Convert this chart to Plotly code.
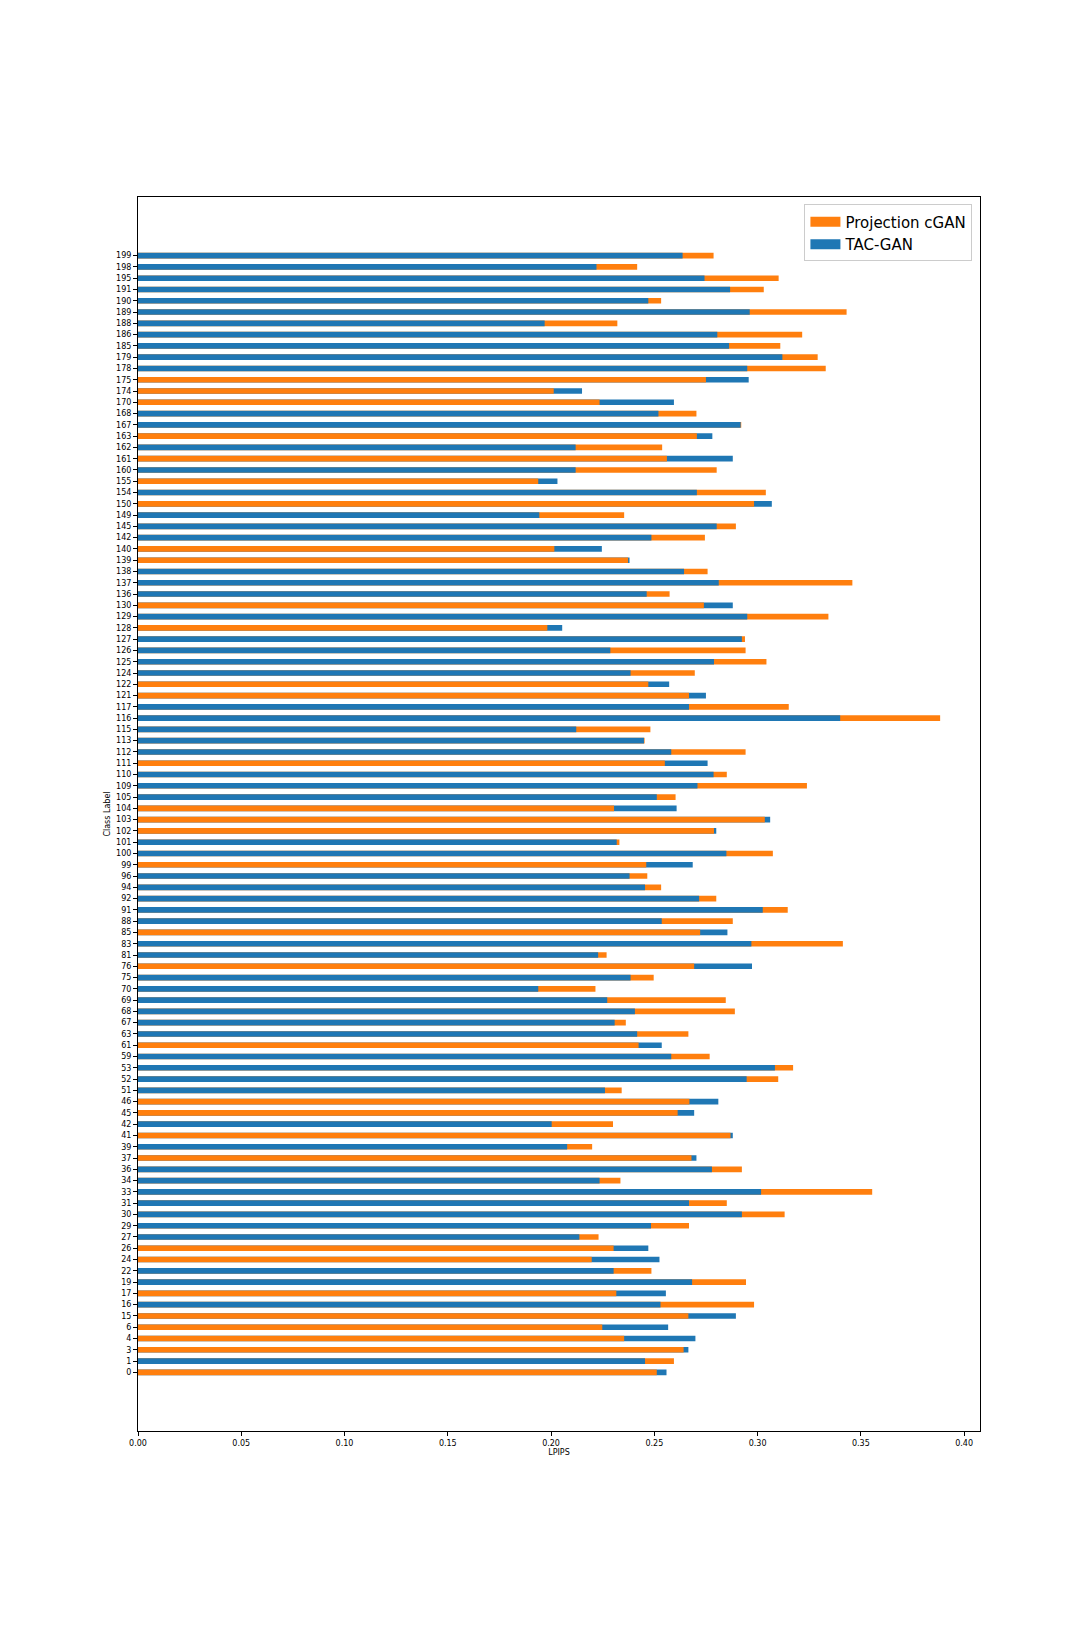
import plotly.graph_objects as go

class_labels = [0, 1, 3, 4, 6, 15, 16, 17, 19, 22, 24, 26, 27, 29, 30, 31, 33, 34, 36, 37,
                39, 41, 42, 45, 46, 51, 52, 53, 59, 61, 63, 67, 68, 69, 70, 75, 76, 81, 83, 85,
                88, 91, 92, 94, 96, 99, 100, 101, 102, 103, 104, 105, 109, 110, 111, 112, 113, 115, 116, 117,
                121, 122, 124, 125, 126, 127, 128, 129, 130, 136, 137, 138, 139, 140, 142, 145, 149, 150, 154, 155,
                160, 161, 162, 163, 167, 168, 170, 174, 175, 178, 179, 185, 186, 188, 189, 190, 191, 195, 198, 199]

projection_cgan = [0.2512, 0.2595, 0.2642, 0.2354, 0.2248, 0.2665, 0.2983, 0.2316, 0.2944, 0.2486,
                   0.2197, 0.2303, 0.2230, 0.2668, 0.3131, 0.2851, 0.3555, 0.2336, 0.2924, 0.2680,
                   0.2199, 0.2869, 0.2300, 0.2613, 0.2670, 0.2342, 0.3100, 0.3172, 0.2768, 0.2424,
                   0.2665, 0.2362, 0.2890, 0.2846, 0.2215, 0.2497, 0.2693, 0.2269, 0.3413, 0.2722,
                   0.2880, 0.3146, 0.2800, 0.2533, 0.2466, 0.2461, 0.3074, 0.2331, 0.2789, 0.3035,
                   0.2305, 0.2603, 0.3239, 0.2851, 0.2551, 0.2942, 0.2453, 0.2481, 0.3884, 0.3151,
                   0.2668, 0.2471, 0.2696, 0.3043, 0.2942, 0.2939, 0.1982, 0.3343, 0.2740, 0.2574,
                   0.3459, 0.2758, 0.2373, 0.2016, 0.2745, 0.2895, 0.2354, 0.2983, 0.3040, 0.1938,
                   0.2802, 0.2561, 0.2538, 0.2706, 0.2921, 0.2704, 0.2235, 0.2013, 0.2750, 0.3330,
                   0.3291, 0.3110, 0.3216, 0.2321, 0.3431, 0.2533, 0.3030, 0.3102, 0.2417, 0.2787]

tac_gan = [0.2559, 0.2455, 0.2665, 0.2699, 0.2567, 0.2895, 0.2530, 0.2556, 0.2683, 0.2303,
           0.2525, 0.2471, 0.2137, 0.2484, 0.2924, 0.2668, 0.3017, 0.2235, 0.2779, 0.2704,
           0.2078, 0.2880, 0.2003, 0.2693, 0.2810, 0.2261, 0.2947, 0.3084, 0.2582, 0.2536,
           0.2417, 0.2308, 0.2406, 0.2272, 0.1938, 0.2385, 0.2973, 0.2228, 0.2970, 0.2854,
           0.2536, 0.3025, 0.2717, 0.2455, 0.2380, 0.2686, 0.2849, 0.2318, 0.2800, 0.3061,
           0.2608, 0.2512, 0.2709, 0.2787, 0.2758, 0.2582, 0.2450, 0.2122, 0.3400, 0.2668,
           0.2750, 0.2572, 0.2385, 0.2789, 0.2287, 0.2924, 0.2054, 0.2950, 0.2880, 0.2463,
           0.2812, 0.2644, 0.2380, 0.2246, 0.2486, 0.2802, 0.1943, 0.3069, 0.2706, 0.2031,
           0.2119, 0.2880, 0.2119, 0.2781, 0.2918, 0.2520, 0.2595, 0.2150, 0.2957, 0.2950,
           0.3120, 0.2862, 0.2805, 0.1969, 0.2962, 0.2471, 0.2867, 0.2743, 0.2220, 0.2637]

x_ticks = [0.00, 0.05, 0.10, 0.15, 0.20, 0.25, 0.30, 0.35, 0.40]

ORANGE = "#ff7f0e"
BLUE = "#1f77b4"
FONT = "DejaVu Sans"

pos = list(range(len(class_labels)))

# longer bar drawn first, shorter bar drawn on top
proj_long = [p if p >= t else None for p, t in zip(projection_cgan, tac_gan)]
tac_long = [t if t > p else None for p, t in zip(projection_cgan, tac_gan)]
proj_short = [p if p < t else None for p, t in zip(projection_cgan, tac_gan)]
tac_short = [t if t <= p else None for p, t in zip(projection_cgan, tac_gan)]

fig = go.Figure()
common = dict(orientation="h", width=0.5, marker_line_width=0, hoverinfo="x+y", showlegend=False)
fig.add_trace(go.Bar(x=proj_long, y=pos, name="Projection cGAN", legendgroup="p",
                     marker_color=ORANGE, **common))
fig.add_trace(go.Bar(x=tac_long, y=pos, name="TAC-GAN", legendgroup="t",
                     marker_color=BLUE, **common))
fig.add_trace(go.Bar(x=proj_short, y=pos, name="Projection cGAN", legendgroup="p",
                     marker_color=ORANGE, **common))
fig.add_trace(go.Bar(x=tac_short, y=pos, name="TAC-GAN", legendgroup="t",
                     marker_color=BLUE, **common))
# legend entries with wide patches
fig.add_trace(go.Scatter(x=[None], y=[None], mode="lines", name="Projection cGAN",
                         legendgroup="p", line=dict(color=ORANGE, width=11)))
fig.add_trace(go.Scatter(x=[None], y=[None], mode="lines", name="TAC-GAN",
                         legendgroup="t", line=dict(color=BLUE, width=11)))

fig.update_layout(
    width=1090, height=1635,
    barmode="overlay",
    paper_bgcolor="white", plot_bgcolor="white",
    margin=dict(l=130, r=118, t=189, b=212),
    font=dict(family=FONT, color="black", size=8),
    legend=dict(x=0.991, y=0.994, xanchor="right", yanchor="top",
                font=dict(size=15, family=FONT),
                bgcolor="rgba(255,255,255,0.8)", bordercolor="#cccccc", borderwidth=1,
                traceorder="normal", tracegroupgap=0),
    showlegend=True,
)
fig.update_xaxes(range=[0, 0.4077], tickvals=x_ticks, tickformat=".2f",
                 ticks="outside", ticklen=4, tickcolor="black", tickfont=dict(size=8),
                 showline=True, mirror=True, linecolor="black", linewidth=1,
                 showgrid=False, zeroline=False,
                 title=dict(text="LPIPS", font=dict(size=8), standoff=1))
fig.update_yaxes(range=[-5.2, 104.2], tickvals=pos, ticktext=[str(c) for c in class_labels],
                 ticks="outside", ticklen=4, tickcolor="black", tickfont=dict(size=8),
                 showline=True, mirror=True, linecolor="black", linewidth=1,
                 showgrid=False, zeroline=False,
                 title=dict(text="Class Label", font=dict(size=8), standoff=4))

fig.write_html("out.html")
